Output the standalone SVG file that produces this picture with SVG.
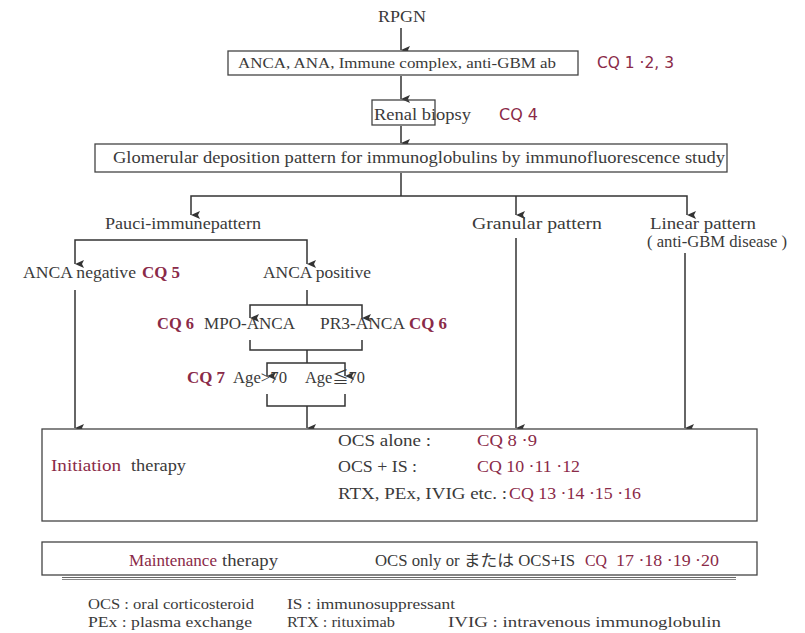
<svg xmlns="http://www.w3.org/2000/svg" width="805" height="633" viewBox="0 0 805 633">
<defs>
<marker id="ah" markerWidth="8" markerHeight="9" refX="4" refY="9" orient="auto-start-reverse" markerUnits="userSpaceOnUse" viewBox="0 0 8 9">
<path d="M0,0 L4,2 L8,0 L4,9 Z" fill="#333"/>
</marker>
<style>
text{font-family:"Liberation Serif",serif}
.t{font-size:16px;fill:#3a3a3a}
.j{font-family:"Liberation Serif","Noto Sans CJK JP",serif}
.f{font-size:15px;fill:#3a3a3a}
.r{font-size:16px;fill:#8a2a48;font-weight:bold}
.rn{font-size:16px;fill:#8a2a48}
.rs{font-family:"DejaVu Sans","Liberation Sans",sans-serif;font-size:15px;fill:#8a2a48}
.b{fill:#fff;stroke:#444;stroke-width:1.3}
.c{fill:none;stroke:#333;stroke-width:1.5}
.a{marker-end:url(#ah)}
.s{marker-start:url(#ah)}
</style>
</defs>
<rect width="805" height="633" fill="#fff"/>

<g id="connectors">
<line class="c a" x1="401" y1="28" x2="401" y2="50"/>
<line class="c a" x1="401" y1="76" x2="401" y2="99"/>
<line class="c a" x1="401" y1="126" x2="401" y2="143"/>
<line class="c" x1="401" y1="173" x2="401" y2="196"/>
<polyline class="c a s" points="191,215 191,196 687,196 687,215"/>
<line class="c a" x1="516" y1="196" x2="516" y2="215"/>
<polyline class="c a s" points="75,264 75,240 307,240 307,264"/>
<line class="c a" x1="75" y1="290" x2="75" y2="428"/>
<line class="c" x1="307" y1="290" x2="307" y2="305"/>
<polyline class="c a s" points="250,318 250,305 362,305 362,318"/>
<polyline class="c" points="250,340 250,350 362,350 362,340"/>
<line class="c" x1="307" y1="350" x2="307" y2="363"/>
<polyline class="c a s" points="267,376 267,363 345,363 345,376"/>
<polyline class="c" points="267,394 267,406 345,406 345,394"/>
<line class="c a" x1="307" y1="406" x2="307" y2="428"/>
<line class="c a" x1="516" y1="238" x2="516" y2="428"/>
<line class="c a" x1="685" y1="253" x2="685" y2="428"/>
<line x1="62" y1="577.5" x2="736" y2="577.5" stroke="#666" stroke-width="1"/>
<line x1="62" y1="579.5" x2="736" y2="579.5" stroke="#888" stroke-width="1"/>
</g>

<g id="rpgn">
<text class="t" x="378" y="22" textLength="48" lengthAdjust="spacingAndGlyphs">RPGN</text>
</g>

<g id="serology">
<rect class="b" x="228" y="51" width="350" height="24"/>
<text class="f" x="238" y="68" textLength="318" lengthAdjust="spacingAndGlyphs">ANCA, ANA, Immune complex, anti-GBM ab</text>
<text class="rs" x="597" y="68" textLength="77" lengthAdjust="spacingAndGlyphs">CQ 1 ·2, 3</text>
</g>

<g id="biopsy">
<rect class="b" x="372" y="100" width="63" height="25" style="fill:none"/>
<text class="t" x="374" y="120" textLength="97" lengthAdjust="spacingAndGlyphs">Renal biopsy</text>
<text class="rs" x="499" y="120" textLength="39" lengthAdjust="spacingAndGlyphs">CQ 4</text>
</g>

<g id="if-study">
<rect class="b" x="95" y="144" width="632" height="28"/>
<text class="t" x="113" y="163" textLength="612" lengthAdjust="spacingAndGlyphs">Glomerular deposition pattern for immunoglobulins by immunofluorescence study</text>
</g>

<g id="pauci">
<text class="t" x="105" y="229" textLength="156" lengthAdjust="spacingAndGlyphs">Pauci-immunepattern</text>
</g>
<g id="granular">
<text class="t" x="472" y="229" textLength="130" lengthAdjust="spacingAndGlyphs">Granular pattern</text>
</g>
<g id="linear">
<text class="t" x="650" y="229" textLength="106" lengthAdjust="spacingAndGlyphs">Linear pattern</text>
<text class="t" x="647" y="247" textLength="140" lengthAdjust="spacingAndGlyphs">( anti-GBM disease )</text>
</g>

<g id="anca-neg">
<text class="t" x="23" y="278" textLength="113" lengthAdjust="spacingAndGlyphs">ANCA negative</text>
<text class="r" x="142" y="278" textLength="38" lengthAdjust="spacingAndGlyphs">CQ 5</text>
</g>
<g id="anca-pos">
<text class="t" x="263" y="278" textLength="108" lengthAdjust="spacingAndGlyphs">ANCA positive</text>
</g>
<g id="mpo">
<text class="r" x="157" y="329" textLength="37" lengthAdjust="spacingAndGlyphs">CQ 6</text>
<text class="t" x="204" y="329" textLength="91" lengthAdjust="spacingAndGlyphs">MPO-ANCA</text>
</g>
<g id="pr3">
<text class="t" x="320" y="329" textLength="85" lengthAdjust="spacingAndGlyphs">PR3-ANCA</text>
<text class="r" x="409" y="329" textLength="38" lengthAdjust="spacingAndGlyphs">CQ 6</text>
</g>
<g id="age-gt">
<text class="r" x="187" y="383" textLength="38" lengthAdjust="spacingAndGlyphs">CQ 7</text>
<text class="t" x="233" y="383" textLength="54" lengthAdjust="spacingAndGlyphs">Age&gt;70</text>
</g>
<g id="age-le">
<text class="t j" x="305" y="383" textLength="60" lengthAdjust="spacingAndGlyphs">Age≦70</text>
</g>

<g id="initiation">
<rect class="b" x="42" y="429" width="715" height="92"/>
<text class="rn" x="51" y="471" textLength="70" lengthAdjust="spacingAndGlyphs">Initiation</text>
<text class="t" x="131" y="471" textLength="55" lengthAdjust="spacingAndGlyphs">therapy</text>
<text class="t" x="338" y="446" textLength="93" lengthAdjust="spacingAndGlyphs">OCS alone :</text>
<text class="rn" x="477" y="446" textLength="60" lengthAdjust="spacingAndGlyphs">CQ 8 ·9</text>
<text class="t" x="338" y="472" textLength="79" lengthAdjust="spacingAndGlyphs">OCS + IS :</text>
<text class="rn" x="477" y="472" textLength="103" lengthAdjust="spacingAndGlyphs">CQ 10 ·11 ·12</text>
<text class="t" x="338" y="499" textLength="169" lengthAdjust="spacingAndGlyphs">RTX, PEx, IVIG etc. :</text>
<text class="rn" x="509" y="499" textLength="132" lengthAdjust="spacingAndGlyphs">CQ 13 ·14 ·15 ·16</text>
</g>

<g id="maintenance">
<rect class="b" x="42" y="542" width="715" height="33"/>
<text class="rn" x="129" y="566" textLength="88" lengthAdjust="spacingAndGlyphs">Maintenance</text>
<text class="t" x="222" y="566" textLength="56" lengthAdjust="spacingAndGlyphs">therapy</text>
<text class="t j" x="375" y="566" textLength="200" lengthAdjust="spacingAndGlyphs">OCS only or または OCS+IS</text>
<text class="rn" x="585" y="566" textLength="22" lengthAdjust="spacingAndGlyphs">CQ</text>
<text class="rn" x="616" y="566" textLength="103" lengthAdjust="spacingAndGlyphs">17 ·18 ·19 ·20</text>
</g>

<g id="legend">
<text class="f" x="88" y="609" textLength="166" lengthAdjust="spacingAndGlyphs">OCS : oral corticosteroid</text>
<text class="f" x="287" y="609" textLength="168" lengthAdjust="spacingAndGlyphs">IS : immunosuppressant</text>
<text class="f" x="88" y="627" textLength="164" lengthAdjust="spacingAndGlyphs">PEx : plasma exchange</text>
<text class="f" x="287" y="627" textLength="108" lengthAdjust="spacingAndGlyphs">RTX : rituximab</text>
<text class="f" x="448" y="627" textLength="273" lengthAdjust="spacingAndGlyphs">IVIG : intravenous   immunoglobulin</text>
</g>
</svg>
